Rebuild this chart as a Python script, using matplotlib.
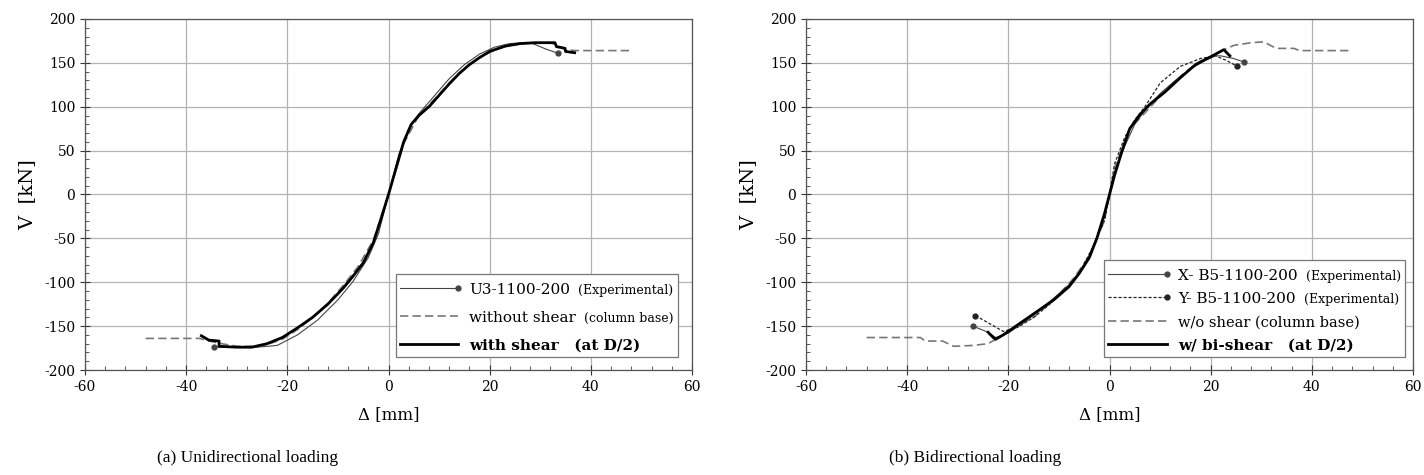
import numpy as np
import matplotlib
matplotlib.use("Agg")
import matplotlib.pyplot as plt
from matplotlib.lines import Line2D
from matplotlib.offsetbox import (AnchoredOffsetbox, DrawingArea, HPacker,
                                  TextArea, VPacker)

# ---- (a) unidirectional loading ----
u3_x = [-34.5, -33, -30, -26, -22, -18, -14, -10, -7, -4, -2, 0, 2, 4, 6, 9,
        12, 15, 18, 21, 24, 27, 28.5, 31, 33.5]
u3_v = [-174, -174, -174, -174, -172, -160, -143, -120, -99, -72, -45, 0, 45,
        75, 92, 112, 132, 148, 160, 168, 172, 173, 172, 166, 161]

a_nos_x = [-48, -37.4, -35.5, -33, -30, -27, -24, -21, -18, -15, -12, -9, -6,
           -3, 0, 3, 6, 9, 12, 15, 18, 21, 24, 27, 30, 32, 33, 34, 35, 37, 48]
a_nos_v = [-164, -164, -167, -170, -173, -173, -171, -165, -154, -140, -124,
           -104, -82, -52, 0, 58, 90, 108, 127, 144, 156, 165, 170, 172, 173,
           173, 171, 168, 165, 164, 164]

a_sh_x = [-37, -35.5, -33.5, -33.5, -30, -27, -24, -21, -18, -15, -12, -9, -7,
          -5, -3, -1.5, 0, 1.5, 3, 4.5, 6, 8, 10, 12, 14, 16, 18, 20, 23, 26,
          29, 32.9, 33.2, 34.9, 35, 36.8]
a_sh_v = [-161, -166, -167, -173, -174, -174, -170, -163, -152, -140, -125,
          -107, -93, -78, -55, -28, 0, 30, 60, 80, 90, 100, 113, 126, 138, 148,
          156, 163, 169, 172, 173, 173, 168.5, 166.6, 163, 161.6]

# ---- (b) bidirectional loading ----
bx_x = [-27, -24, -22.5, -20, -17, -14, -11, -8, -5, -3, -1, 0, 1, 3, 5, 7,
        10, 13, 16, 19, 21, 22, 24.5, 26.6]
bx_v = [-150, -157, -163, -158, -146, -133, -118, -103, -82, -57, -25, 0, 25,
        55, 80, 96, 115, 130, 143, 153, 158, 158, 155, 151]

by_x = [-26.5, -21, -18, -15, -12, -9, -6, -3.5, -1, 0, 1, 3, 5, 7, 10, 14,
        18, 21, 23, 25.3]
by_v = [-138, -156, -151, -140, -126, -110, -90, -62, -30, 0, 35, 65, 85, 100,
        127, 146, 155, 158, 153, 146]

b_nos_x = [-48, -37.4, -36.4, -33, -30.8, -27, -24, -22.2, -19, -15, -11, -7,
           -4, -1, 0, 1, 4, 7, 11, 15, 18, 20, 22.6, 24.6, 28, 30.6, 31.3, 33,
           36.5, 37.5, 48]
b_nos_v = [-163, -163, -167, -167, -173, -172, -170, -164, -152, -140, -120,
           -95, -70, -30, 0, 30, 75, 93, 118, 140, 152, 157, 165, 170, 173,
           174, 171.5, 166.5, 166.5, 164, 164]

b_sh_x = [-24, -23, -22.5, -21, -18, -15, -11, -8, -6, -4, -2.5, -1, 0, 1, 2.5,
          4, 6, 8, 11, 14, 17, 20, 22.6, 23.8]
b_sh_v = [-157, -163, -165, -160, -148, -136, -120, -105, -90, -72, -50, -22,
          0, 22, 50, 75, 91, 103, 117, 133, 148, 157, 165, 158]

SERIF = "DejaVu Serif"
plt.rcParams["font.family"] = SERIF
plt.rcParams["axes.unicode_minus"] = False

EXP = dict(color="#444444", lw=0.8, marker="o", ms=3.5, markevery=[0, -1])
EXPY = dict(color="#222222", lw=0.9, ls=(0, (2.5, 1.5)), marker="o", ms=3.5,
            markevery=[0, -1])
NOS = dict(color="#777777", lw=1.2, ls=(0, (5, 2.5)))
SH = dict(color="black", lw=2.0)


def style_axes(ax):
    ax.set_xlim(-60, 60)
    ax.set_ylim(-200, 200)
    ax.set_xticks(np.arange(-60, 61, 20))
    ax.set_yticks(np.arange(-200, 201, 50))
    ax.set_xticks(np.arange(-60, 61, 4), minor=True)
    ax.set_yticks(np.arange(-200, 201, 10), minor=True)
    ax.grid(True, which="major", color="#b4b4b4", lw=0.9)
    ax.set_axisbelow(True)
    for s in ax.spines.values():
        s.set_color("#555555")
        s.set_linewidth(0.9)
    ax.tick_params(which="major", direction="inout", length=7, width=0.8,
                   labelsize=10, colors="#333333", labelcolor="black")
    ax.tick_params(which="minor", direction="in", length=3, width=0.7,
                   colors="#555555")
    ax.set_xlabel("Δ [mm]", fontsize=12, labelpad=9)
    ax.set_ylabel("V  [kN]", fontsize=14, labelpad=6)


def legend_row(handle_kw, parts, marker_end=False):
    da = DrawingArea(44, 11, 0, 0)
    kw = {k: v for k, v in handle_kw.items() if k not in ("marker", "ms", "markevery")}
    da.add_artist(Line2D([0, 42], [4, 4], **kw))
    if marker_end:
        da.add_artist(Line2D([42], [4], marker="o", ms=3.5,
                             color=handle_kw["color"], ls="none"))
    texts = [TextArea(t, textprops=dict(fontsize=fs, fontweight=fw,
                                        family=SERIF))
             for t, fs, fw in parts]
    return HPacker(children=[da] + texts, align="baseline", pad=0, sep=6)


def add_legend(ax, rows, anchor, sep):
    box = VPacker(children=rows, align="left", pad=0, sep=sep)
    anc = AnchoredOffsetbox(loc="lower right", child=box, pad=0.3,
                            borderpad=0, frameon=True,
                            bbox_to_anchor=anchor, bbox_transform=ax.transAxes)
    anc.patch.set_edgecolor("#777777")
    anc.patch.set_linewidth(0.9)
    anc.patch.set_boxstyle("square", pad=0)
    ax.add_artist(anc)


fig = plt.figure(figsize=(14.24, 4.75), dpi=100)
ax1 = fig.add_axes([85 / 1424, 1 - 370 / 475, 607 / 1424, 351 / 475])
ax2 = fig.add_axes([806 / 1424, 1 - 370 / 475, 607 / 1424, 351 / 475])

# (a)
ax1.plot(a_nos_x, a_nos_v, **NOS)
ax1.plot(u3_x, u3_v, **EXP)
ax1.plot(a_sh_x, a_sh_v, **SH)
style_axes(ax1)
add_legend(ax1, [
    legend_row(EXP, [("U3-1100-200", 11, "normal"), ("(Experimental)", 9, "normal")], True),
    legend_row(NOS, [("without shear", 11, "normal"), ("(column base)", 9, "normal")]),
    legend_row(SH, [("with shear   (at D/2)", 11, "bold")]),
], (0.977, 0.037), 7)

# (b)
ax2.plot(b_nos_x, b_nos_v, **NOS)
ax2.plot(by_x, by_v, **EXPY)
ax2.plot(bx_x, bx_v, **EXP)
ax2.plot(b_sh_x, b_sh_v, **SH)
style_axes(ax2)
add_legend(ax2, [
    legend_row(EXP, [("X- B5-1100-200", 11, "normal"), ("(Experimental)", 9, "normal")], True),
    legend_row(EXPY, [("Y- B5-1100-200", 11, "normal"), ("(Experimental)", 9, "normal")], True),
    legend_row(NOS, [("w/o shear (column base)", 10.5, "normal")]),
    legend_row(SH, [("w/ bi-shear   (at D/2)", 11, "bold")]),
], (0.987, 0.037), 3.7)

fig.text(248 / 1424, 1 - 458 / 475, "(a) Unidirectional loading",
         family="Liberation Serif", fontsize=12.5, ha="center", va="center")
fig.text(975 / 1424, 1 - 458 / 475, "(b) Bidirectional loading",
         family="Liberation Serif", fontsize=12.5, ha="center", va="center")

fig.savefig("out.png", dpi=100)
